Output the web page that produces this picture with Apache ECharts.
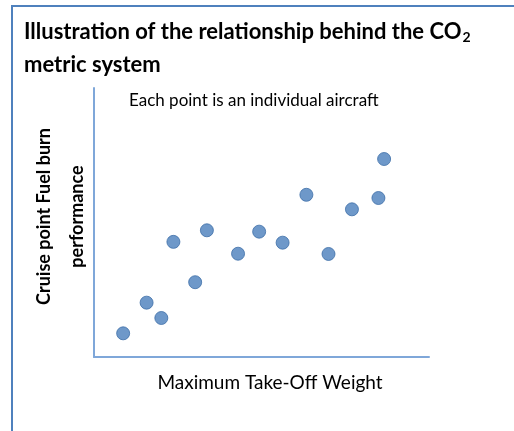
<!DOCTYPE html>
<html>
<head>
<meta charset="utf-8">
<script src="https://cdn.jsdelivr.net/npm/echarts@6/dist/echarts.min.js"></script>
<style>
  html, body { margin: 0; padding: 0; background: #fff; }
  #chart { width: 514px; height: 431px; }
</style>
</head>
<body>
<div id="chart"></div>
<script>
// aircraft points, arbitrary 0-100 scale (no ticks shown in original)
const mtow = [8.7, 15.7, 20.1, 23.7, 30.2, 33.7, 43.0, 49.3, 56.3, 63.4, 70.0, 77.0, 84.9, 86.6];
const fuelBurn = [8.8, 20.2, 14.5, 42.8, 27.8, 47.1, 38.4, 46.6, 42.5, 60.3, 38.3, 54.9, 59.1, 73.6];

const xName = 'Maximum Take-Off Weight';
const yName = 'Cruise point Fuel burn\nperformance';
const note = 'Each point is an individual aircraft';

let points = mtow.map((x, i) => [x, fuelBurn[i]]);

let myChart = echarts.init(document.getElementById('chart'));
myChart.setOption({
    animation: false,
    title: [
        {
            left: 24,
            top: 15,
            padding: 0,
            text: '{b|Illustration of the relationship behind the CO}{s|2}\n{b|metric system}',
            textStyle: {
                rich: {
                    b: { fontFamily: 'Lato', fontWeight: 'bold', fontSize: 22, lineHeight: 33, color: '#000' },
                    // subscript: sits low in the line
                    s: { fontFamily: 'Lato', fontWeight: 'bold', fontSize: 14, lineHeight: 14, color: '#000', verticalAlign: 'bottom', padding: [0, 0, 4, 1] },
                },
            },
        },
        {
            left: 129,
            top: 92,
            padding: 0,
            text: note,
            textStyle: { fontFamily: 'Lato', fontWeight: 'normal', fontSize: 17, color: '#000' },
        },
    ],
    graphic: [
        {
            type: 'rect',
            shape: { x: 12, y: 6, width: 600, height: 500 },
            style: { fill: 'none', stroke: '#4f81bd', lineWidth: 2 },
            silent: true,
        },
    ],
    grid: {
        left: 94,
        top: 88,
        width: 335,
        height: 269,
        containLabel: false,
        outerBoundsMode: 'none',
    },
    xAxis: {
        type: 'value',
        min: 0,
        max: 100,
        name: xName,
        nameLocation: 'middle',
        nameGap: 16,
        nameTextStyle: { fontFamily: 'Lato', fontSize: 19, color: '#000', padding: [0, 0, 0, 17] },
        axisLine: { lineStyle: { color: '#7fa7d9', width: 2 } },
        axisTick: { show: false },
        axisLabel: { show: false },
        splitLine: { show: false },
    },
    yAxis: {
        type: 'value',
        min: 0,
        max: 100,
        name: yName,
        nameLocation: 'middle',
        nameGap: 0,
        nameRotate: 90,
        nameTextStyle: { fontFamily: 'Lato', fontWeight: 'bold', fontSize: 18, lineHeight: 33, color: '#000', padding: [0, 0, 0, 12] },
        axisLine: { show: true, lineStyle: { color: '#7fa7d9', width: 2 } },
        axisTick: { show: false },
        axisLabel: { show: false },
        splitLine: { show: false },
    },
    series: [
        {
            type: 'scatter',
            symbolSize: 13,
            data: points,
            itemStyle: { color: '#4a7ebb', borderColor: '#3d6ea8', borderWidth: 1 },
        },
    ],
});
</script>
</body>
</html>
